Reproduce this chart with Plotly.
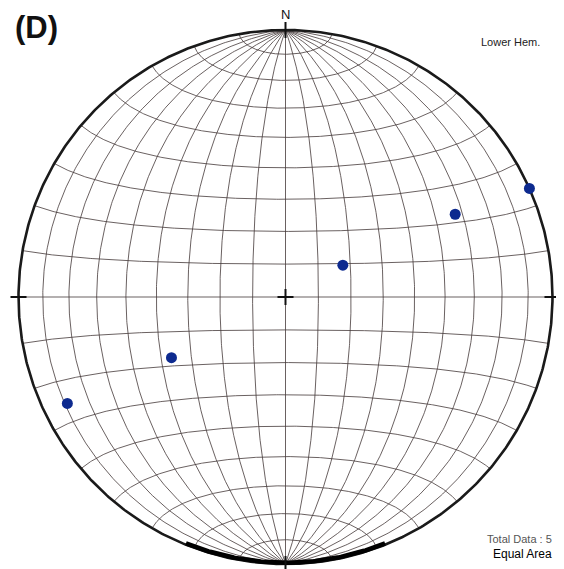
import numpy as np
import plotly.graph_objects as go

# Pole data (lower hemisphere): trend / plunge in degrees
trends = [61, 64, 66, 242, 244]
plunges = [70, 30, 0, 50, 10]

# Net grid spacing (degrees)
meridian_lons = list(range(-90, 91, 10))
parallel_lats = list(range(-80, 81, 10))

CX, CY, R = 285.5, 297.0, 267.0
W, H = 564, 569
OFF = 8  # browser body margin


def proj(lat, lon):
    lat = np.radians(lat)
    lon = np.radians(lon)
    k = np.sqrt(2.0 / (1.0 + np.cos(lat) * np.cos(lon)))
    x = k * np.cos(lat) * np.sin(lon) / np.sqrt(2)
    y = k * np.sin(lat) / np.sqrt(2)
    return x, y


gx, gy = [], []
t = np.linspace(-89.999, 89.999, 361)
for lon in meridian_lons:
    x, y = proj(t, np.full_like(t, lon))
    gx += list(x) + [None]
    gy += list(y) + [None]
for lat in parallel_lats:
    x, y = proj(np.full_like(t, lat), t)
    gx += list(x) + [None]
    gy += list(y) + [None]

fig = go.Figure()
fig.add_trace(go.Scatter(x=gx, y=gy, mode="lines",
                         line=dict(color="rgba(70,60,60,0.9)", width=0.9),
                         hoverinfo="skip", showlegend=False))

# Primitive circle
a = np.linspace(0, 2 * np.pi, 721)
fig.add_trace(go.Scatter(x=np.cos(a), y=np.sin(a), mode="lines",
                         line=dict(color="#1a1a1a", width=2.6),
                         hoverinfo="skip", showlegend=False))
# thicker bottom arc (print artifact)
b = np.linspace(np.radians(-112), np.radians(-68), 120)
fig.add_trace(go.Scatter(x=0.995 * np.cos(b), y=0.995 * np.sin(b), mode="lines",
                         line=dict(color="#000000", width=4.5),
                         hoverinfo="skip", showlegend=False))

# Ticks and centre cross
tk = 0.03
cx_ = [0, 0, None, -1 - tk, -1 + tk, None, 1 - tk, 1 + tk, None, 0, 0, None,
       -0.03, 0.03, None, 0, 0]
cy_ = [1 - tk, 1 + tk, None, 0, 0, None, 0, 0, None, -1 + tk, -1 - tk, None,
       0, 0, None, -0.03, 0.03]
fig.add_trace(go.Scatter(x=cx_, y=cy_, mode="lines",
                         line=dict(color="#111111", width=2),
                         hoverinfo="skip", showlegend=False))

# Poles: equal-area, lower hemisphere, radius normalised to primitive = 1
tr = np.radians(trends)
rr = np.sqrt(2) * np.sin(np.radians(90 - np.array(plunges)) / 2)
px = rr * np.sin(tr)
py = rr * np.cos(tr)
fig.add_trace(go.Scatter(x=px, y=py, mode="markers",
                         marker=dict(color="#0d2a8f", size=11),
                         showlegend=False))


def px2x(p):
    return (p - CX) / R


def px2y(p):
    return (CY - p) / R


FONT = "Liberation Sans"
fig.add_annotation(x=px2x(36), y=px2y(27), text="<b>(D)</b>", showarrow=False,
                   font=dict(family=FONT, size=31, color="#111"))
fig.add_annotation(x=px2x(285), y=px2y(14), text="N", showarrow=False,
                   font=dict(family=FONT, size=13, color="#111"))
fig.add_annotation(x=px2x(510), y=px2y(42), text="Lower Hem.", showarrow=False,
                   font=dict(family=FONT, size=11, color="#222"))
fig.add_annotation(x=px2x(554), y=px2y(539), text="Total Data : 5", showarrow=False,
                   xanchor="right",
                   font=dict(family=FONT, size=11, color="#555"))
fig.add_annotation(x=px2x(554), y=px2y(554), text="Equal Area", showarrow=False,
                   xanchor="right",
                   font=dict(family=FONT, size=12, color="#000"))

fig.update_layout(
    width=W - OFF, height=H - OFF, margin=dict(l=0, r=0, t=0, b=0),
    paper_bgcolor="white", plot_bgcolor="white",
    xaxis=dict(range=[px2x(OFF), px2x(W)], visible=False, fixedrange=True),
    yaxis=dict(range=[px2y(H), px2y(OFF)], visible=False, fixedrange=True),
)
fig.write_html("out.html")
